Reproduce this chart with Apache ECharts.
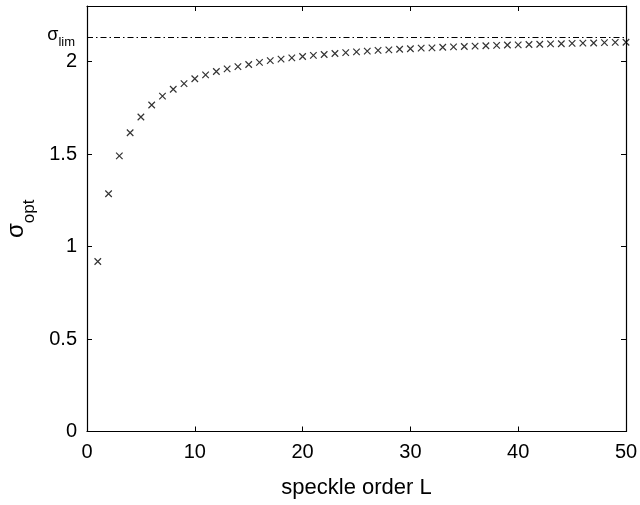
<!DOCTYPE html>
<html><head><meta charset="utf-8">
<script src="https://cdn.jsdelivr.net/npm/echarts@6/dist/echarts.min.js"></script>
<style>html,body{margin:0;padding:0;background:#fff}#c{width:640px;height:505px}</style>
</head><body><div id="c"></div>
<script>
const speckleOrder = [1,2,3,4,5,6,7,8,9,10,11,12,13,14,15,16,17,18,19,20,21,22,23,24,25,26,27,28,29,30,31,32,33,34,35,36,37,38,39,40,41,42,43,44,45,46,47,48,49,50];
const sigmaOpt = [0.919,1.285,1.490,1.615,1.700,1.765,1.813,1.850,1.880,1.907,1.928,1.946,1.960,1.972,1.984,1.995,2.005,2.013,2.020,2.027,2.033,2.038,2.043,2.048,2.052,2.056,2.060,2.063,2.066,2.069,2.072,2.074,2.077,2.079,2.081,2.083,2.085,2.087,2.089,2.090,2.092,2.093,2.095,2.096,2.098,2.099,2.100,2.102,2.103,2.104];
const sigmaLim = 2.13;
const xTicks = [0,10,20,30,40,50];
const yTicks = [0,0.5,1,1.5,2];

const FONT = 'Liberation Sans';
const chart = echarts.init(document.getElementById('c'), null, {renderer:'canvas'});
const axisCommon = {
  axisLine:{show:true, onZero:false, lineStyle:{color:'#000', width:1.2}},
  axisTick:{show:true, inside:true, length:5, lineStyle:{color:'#000', width:1}},
  splitLine:{show:false}
};
const yTickStyle = {axisTick:{show:true, inside:true, length:5, customValues:yTicks, lineStyle:{color:'#000', width:1}}};
chart.setOption({
  animation:false,
  backgroundColor:'#fff',
  grid:{left:87, right:14, top:6, bottom:73.5, containLabel:false, outerBoundsMode:'none'},
  xAxis:[
    Object.assign({type:'value', min:0, max:50, interval:10, position:'bottom',
      name:'speckle order L', nameLocation:'middle', nameGap:45,
      nameTextStyle:{fontFamily:FONT, fontSize:22, color:'#000'},
      axisLabel:{fontFamily:FONT, fontSize:20, color:'#000', margin:11, customValues:xTicks}}, axisCommon),
    Object.assign({type:'value', min:0, max:50, interval:10, position:'top',
      axisLabel:{show:false}}, axisCommon)
  ],
  yAxis:[
    Object.assign({type:'value', min:0, max:2.3, position:'left',
      name:'{s|σ}{o|opt}', nameLocation:'middle', nameGap:48,
      nameTextStyle:{rich:{
        s:{fontFamily:FONT, fontSize:24, color:'#000', lineHeight:26, verticalAlign:'top'},
        o:{fontFamily:FONT, fontSize:17, color:'#000', lineHeight:34, verticalAlign:'bottom'}
      }},
      axisLabel:{fontFamily:FONT, fontSize:20, color:'#000', margin:10, customValues:yTicks}
      }, axisCommon, yTickStyle),
    Object.assign({type:'value', min:0, max:2.3, position:'right',
      axisLabel:{show:false}}, axisCommon, yTickStyle)
  ],
  series:[{
    type:'scatter',
    xAxisIndex:0, yAxisIndex:0,
    data: speckleOrder.map((L,i)=>[L, sigmaOpt[i]]),
    symbol:'path://M0,0L10,10M10,0L0,10',
    symbolSize:6.5,
    clip:false,
    itemStyle:{color:'none', borderColor:'#000', borderWidth:1.2},
    markLine:{
      silent:true, symbol:'none', animation:false,
      lineStyle:{color:'#000', width:1, type:[6,3,1.5,3]},
      label:{show:true, position:'start', distance:12,
        formatter:'{s|σ}{o|lim}',
        rich:{
          s:{fontFamily:FONT, fontSize:18, color:'#000', lineHeight:18, verticalAlign:'top'},
          o:{fontFamily:FONT, fontSize:13, color:'#000', lineHeight:23, verticalAlign:'bottom'}
        }},
      data:[{yAxis:sigmaLim}]
    }
  }]
});
</script></body></html>
